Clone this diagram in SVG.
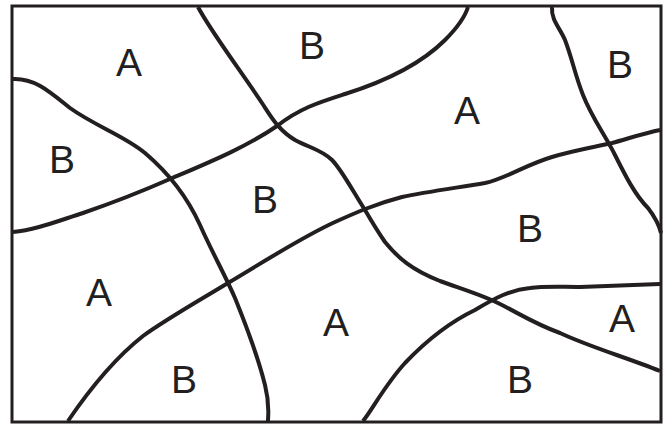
<svg xmlns="http://www.w3.org/2000/svg" width="670" height="426" viewBox="0 0 670 426">
<style>
.c{fill:none;stroke:#231f20;stroke-width:4;stroke-linecap:butt;stroke-linejoin:round}
.b{fill:none;stroke:#231f20;stroke-width:3}
.t{font-family:"Liberation Sans",Arial,sans-serif;font-size:39px;fill:#231f20;text-anchor:middle}
</style>
<rect width="670" height="426" fill="#fff"/>
<rect id="frame" class="b" x="12" y="6" width="649" height="416"/>
<g id="connectors">
<path class="c" d="M13,79 C35,78 50,92 70,108 C95,126 125,136 145,153 C165,170 185,192 200,225 C212,252 225,275 235,298 C250,335 260,365 265,385 C270,405 268,415 268,421"/>
<path class="c" d="M13,232 C35,230 55,222 83,213 C115,202 145,190 170,179 C205,164 245,148 277,126 C300,108 320,102 345,94 C380,83 420,65 445,40 C458,27 465,17 468,7"/>
<path class="c" d="M198,7 C210,30 240,70 262,103 C270,115 278,130 295,140 C310,148 322,150 332,160 C342,170 355,195 365,210 C372,222 378,232 385,242 C398,258 412,270 440,281 C465,290 485,296 500,304 C520,314 535,324 560,333 C590,347 625,357 660,371"/>
<path class="c" d="M68,421 C85,396 110,362 143,336 C165,320 195,303 228,283 C262,263 300,238 335,222 C355,213 375,204 402,197 C425,192 455,188 485,183 C505,179 525,165 552,157 C575,150 595,147 612,143 C630,138 645,133 660,130"/>
<path class="c" d="M552,7 C551,20 560,28 565,40 C572,58 575,75 583,95 C592,118 605,135 615,155 C625,175 635,195 648,208 C655,217 659,225 661,233"/>
<path class="c" d="M363,421 C372,410 385,385 405,363 C425,342 450,322 475,310 C495,298 510,290 530,288 C545,286 560,287 580,287 C610,286 640,285 660,284"/>
</g>
<g id="labels">
<g id="n1"><text class="t" x="129" y="76">A</text></g>
<g id="n2"><text class="t" x="312" y="59">B</text></g>
<g id="n3"><text class="t" x="62" y="173">B</text></g>
<g id="n4"><text class="t" x="265" y="213">B</text></g>
<g id="n5"><text class="t" x="467" y="124">A</text></g>
<g id="n6"><text class="t" x="620" y="78">B</text></g>
<g id="n7"><text class="t" x="99" y="306">A</text></g>
<g id="n8"><text class="t" x="184" y="393">B</text></g>
<g id="n9"><text class="t" x="336" y="336">A</text></g>
<g id="n10"><text class="t" x="530" y="242">B</text></g>
<g id="n11"><text class="t" x="622" y="332">A</text></g>
<g id="n12"><text class="t" x="520" y="393">B</text></g>
</g>
</svg>
